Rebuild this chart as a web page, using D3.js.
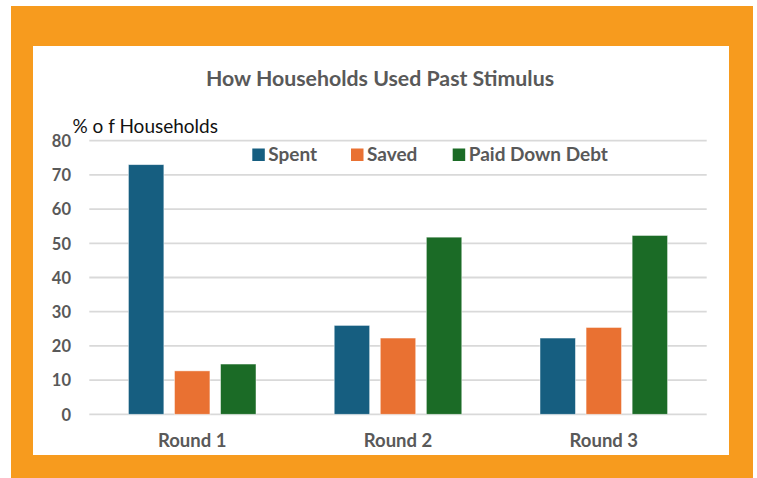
<!DOCTYPE html>
<html><head><meta charset="utf-8">
<script src="https://cdn.jsdelivr.net/npm/d3@7"></script>
<style>body{margin:0;background:#fff}svg{display:block}</style>
</head><body>
<svg id="c" width="757" height="478"></svg>
<script>
const categories = ["Round 1", "Round 2", "Round 3"];
const seriesNames = ["Spent", "Saved", "Paid Down Debt"];
const spent = [73, 26, 22.3];
const saved = [12.7, 22.3, 25.4];
const paidDownDebt = [14.7, 51.8, 52.3];
const yTicks = [0, 10, 20, 30, 40, 50, 60, 70, 80];
const colors = ["#165E80", "#E97132", "#1B6B26"];
const seriesValues = [spent, saved, paidDownDebt];

const svg = d3.select("#c");
const FONT = "Lato, 'Open Sans', sans-serif";
const GRAY = "#595959";

// frame
svg.append("rect").attr("x", 11).attr("y", 6).attr("width", 742).attr("height", 472).attr("fill", "#F79B1E");
svg.append("rect").attr("x", 33).attr("y", 46).attr("width", 696).attr("height", 409).attr("fill", "#fff");

const left = 89.3, right = 706.7;
const x0 = d3.scaleBand().domain(categories).range([left, right]);
const bw = x0.bandwidth();
const x1 = d3.scaleBand().domain(seriesNames).range([bw / 2 - 63.8, bw / 2 + 63.8]).paddingInner(0.23);
const y = d3.scaleLinear().domain([0, 80]).range([414.3, 140.7]);

// gridlines
svg.append("g").selectAll("line").data(yTicks).join("line")
  .attr("x1", left).attr("x2", right)
  .attr("y1", d => y(d)).attr("y2", d => y(d))
  .attr("stroke", "#d9d9d9").attr("stroke-width", 1.8);

// y axis labels
const yAxis = d3.axisLeft(y).tickValues(yTicks).tickSize(0).tickPadding(0);
const ya = svg.append("g").attr("transform", "translate(71,0)").call(yAxis);
ya.select(".domain").remove();
ya.selectAll("text").attr("font-family", FONT).attr("font-weight", "bold")
  .attr("font-size", 16.5).attr("fill", GRAY).attr("dy", "0.35em");

// x axis labels
const xAxis = d3.axisBottom(x0).tickSize(0).tickPadding(0);
const xa = svg.append("g").attr("transform", "translate(0,446.5)").call(xAxis);
xa.select(".domain").remove();
xa.selectAll("text").attr("font-family", FONT).attr("font-weight", "bold")
  .attr("font-size", 18.5).attr("fill", GRAY).attr("dy", 0);

// bars
const groups = svg.append("g").selectAll("g").data(categories).join("g")
  .attr("transform", d => `translate(${x0(d)},0)`);
groups.selectAll("rect").data((c, i) => seriesNames.map((s, j) => ({ s, j, v: seriesValues[j][i] })))
  .join("rect")
  .attr("x", d => x1(d.s)).attr("width", x1.bandwidth())
  .attr("y", d => y(d.v)).attr("height", d => y(0) - y(d.v))
  .attr("fill", d => colors[d.j]).attr("stroke", "#ffffff").attr("stroke-opacity", 0.6).attr("stroke-width", 0.8);

// title
svg.append("text").attr("x", 380).attr("y", 86).attr("text-anchor", "middle")
  .attr("font-family", FONT).attr("font-weight", "bold").attr("font-size", 21.3)
  .attr("fill", GRAY).text("How Households Used Past Stimulus");

// y title
svg.append("text").attr("x", 72.5).attr("y", 132.7)
  .attr("font-family", FONT).attr("font-size", 19).attr("fill", "#111")
  .text("% o f Households");

// legend
const legendX = [252.3, 351, 452.7];
const lg = svg.append("g").selectAll("g").data(seriesNames).join("g")
  .attr("transform", (d, i) => `translate(${legendX[i]},148.5)`);
lg.append("rect").attr("width", 12.5).attr("height", 12.5).attr("fill", (d, i) => colors[i]);
lg.append("text").attr("x", 16).attr("y", 12.5)
  .attr("font-family", FONT).attr("font-weight", "bold").attr("font-size", 19)
  .attr("fill", GRAY).text(d => d);
</script>
</body></html>
